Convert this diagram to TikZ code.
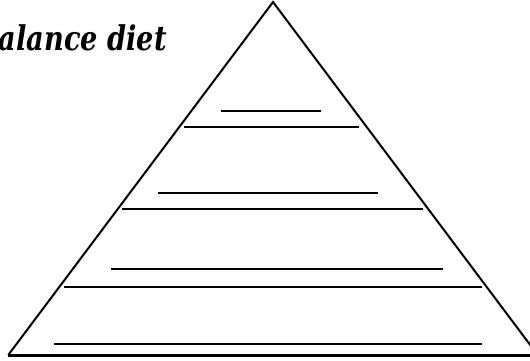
\documentclass[tikz,border=0pt]{standalone}
\usepackage{fontspec}
\setmainfont{DejaVu Serif}
\begin{document}
\begin{tikzpicture}[x=1pt,y=1pt,
  side/.style={line width=2pt},
  rule/.style={line width=2pt},
  baseline/.style={line width=3pt},
  title/.style={font=\fontsize{34}{38}\selectfont\bfseries\itshape, inner sep=0pt, anchor=base east, xscale=0.8, transform shape}]
\useasboundingbox (0,0) rectangle (530,360);
\clip (0,0) rectangle (530,360);
% pyramid
\coordinate (apex) at (273,358);
\coordinate (bl) at (8.3,5);
\coordinate (br) at (537.7,5);
\draw[side, line join=miter] (bl) -- (apex) -- (br);
\draw[baseline] (bl) -- (540,5);
% level boundaries
\draw[rule] (184,233.3) -- (359,233.3);
\draw[rule] (122,151.3) -- (423,151.3);
\draw[rule] (64,73.3) -- (482,73.3);
% blanks
\draw[rule] (220.7,249.3) -- (321.3,249.3);
\draw[rule] (158,167.3) -- (378,167.3);
\draw[rule] (110.7,91.3) -- (443,91.3);
\draw[rule] (54,16) -- (482,16);
% title
\node[title] (t) at (167,310) {Balance diet};
\end{tikzpicture}
\end{document}
